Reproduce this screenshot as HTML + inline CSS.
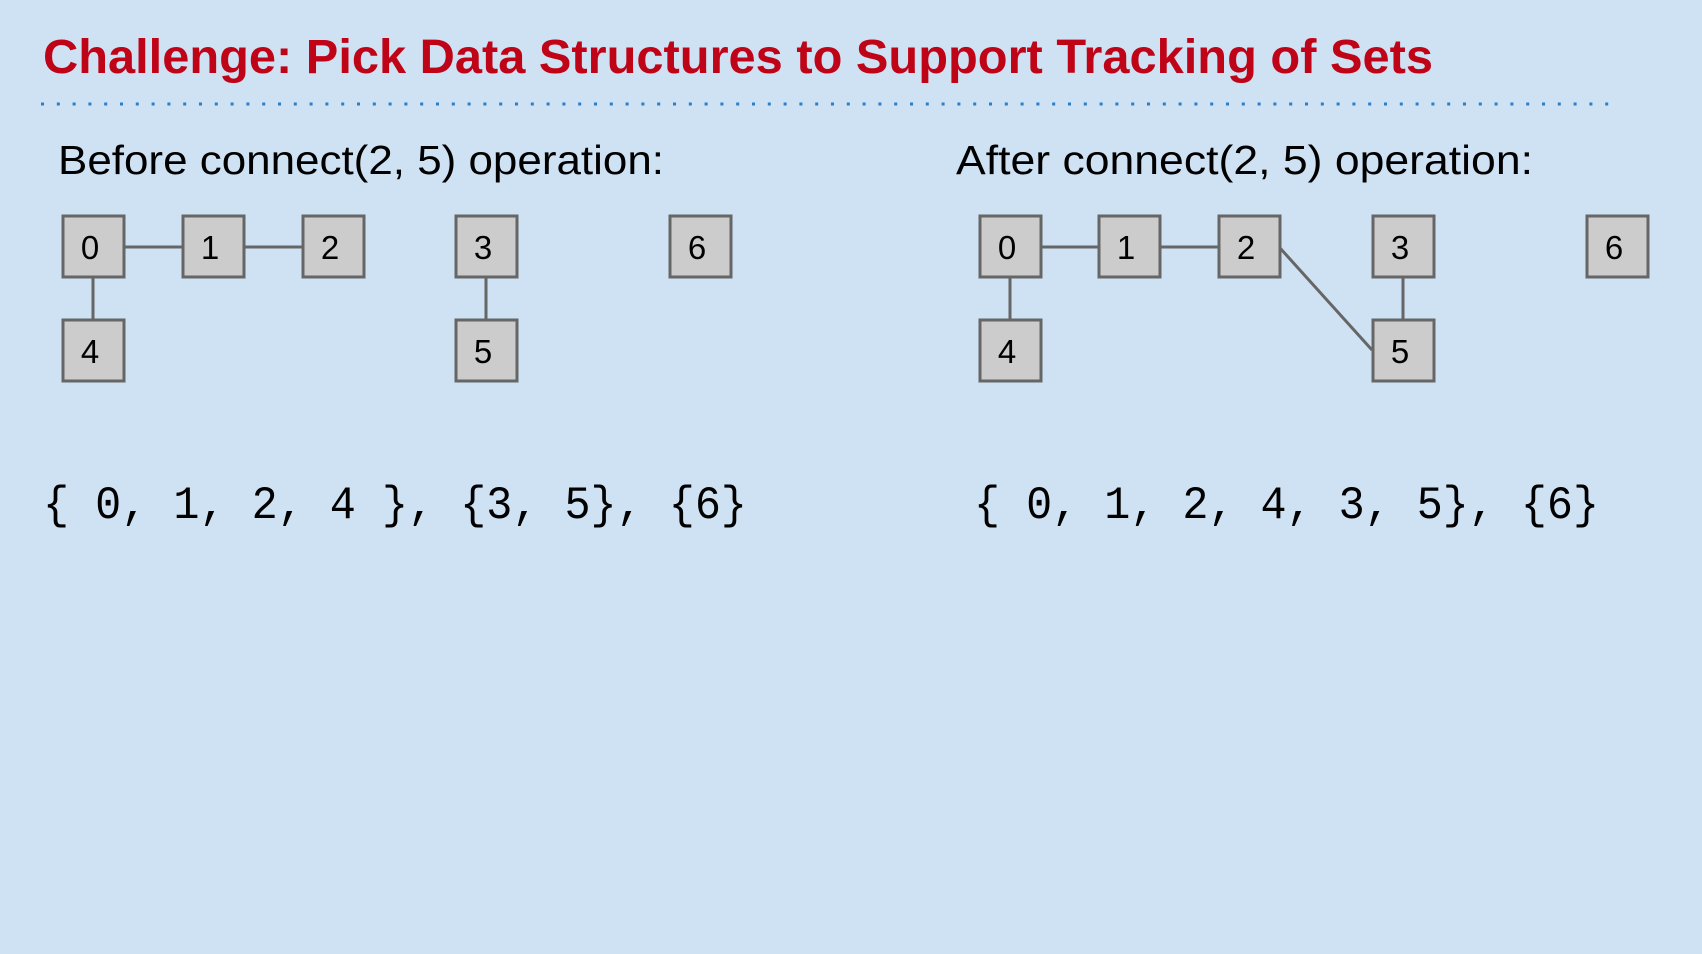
<!DOCTYPE html>
<html><head><meta charset="utf-8"><style>
html,body{margin:0;padding:0;background:#cfe2f3;}
svg{display:block;}
</style></head><body>
<svg width="1702" height="954" viewBox="0 0 1702 954" xmlns="http://www.w3.org/2000/svg">
<rect width="1702" height="954" fill="#cfe2f3"/>
<text x="43" y="73" font-family="Liberation Sans, sans-serif" font-weight="bold" font-size="48" fill="#c00418" textLength="1390" lengthAdjust="spacingAndGlyphs">Challenge: Pick Data Structures to Support Tracking of Sets</text>
<line x1="41" y1="104" x2="1615" y2="104" stroke="#2a7fc9" stroke-width="3" stroke-dasharray="3 12.8"/>
<text x="58" y="174" font-family="Liberation Sans, sans-serif" font-size="41" fill="#000" textLength="606" lengthAdjust="spacingAndGlyphs">Before connect(2, 5) operation:</text>
<text x="956" y="174" font-family="Liberation Sans, sans-serif" font-size="41" fill="#000" textLength="577" lengthAdjust="spacingAndGlyphs">After connect(2, 5) operation:</text>
<g stroke="#666" stroke-width="3">
<line x1="125" y1="247" x2="182" y2="247"/><line x1="244" y1="247" x2="302" y2="247"/>
<line x1="93" y1="278" x2="93" y2="319"/><line x1="486" y1="278" x2="486" y2="319"/>
<line x1="1041" y1="247" x2="1098" y2="247"/><line x1="1160" y1="247" x2="1218" y2="247"/>
<line x1="1010" y1="278" x2="1010" y2="319"/><line x1="1403" y1="278" x2="1403" y2="319"/>
<line x1="1280" y1="248" x2="1372" y2="350"/>
</g>
<g fill="#cccccc" stroke="#666" stroke-width="3">
<rect x="63" y="216" width="61" height="61"/><rect x="183" y="216" width="61" height="61"/><rect x="303" y="216" width="61" height="61"/><rect x="456" y="216" width="61" height="61"/><rect x="670" y="216" width="61" height="61"/>
<rect x="63" y="320" width="61" height="61"/><rect x="456" y="320" width="61" height="61"/>
<rect x="980" y="216" width="61" height="61"/><rect x="1099" y="216" width="61" height="61"/><rect x="1219" y="216" width="61" height="61"/><rect x="1373" y="216" width="61" height="61"/><rect x="1587" y="216" width="61" height="61"/>
<rect x="980" y="320" width="61" height="61"/><rect x="1373" y="320" width="61" height="61"/>
</g>
<g font-family="Liberation Sans, sans-serif" font-size="33" fill="#000" text-anchor="middle">
<text x="90" y="259">0</text><text x="210" y="259">1</text><text x="330" y="259">2</text><text x="483" y="259">3</text><text x="697" y="259">6</text>
<text x="90" y="363">4</text><text x="483" y="363">5</text>
<text x="1007" y="259">0</text><text x="1126" y="259">1</text><text x="1246" y="259">2</text><text x="1400" y="259">3</text><text x="1614" y="259">6</text>
<text x="1007" y="363">4</text><text x="1400" y="363">5</text>
</g>
<g font-family="Liberation Mono, monospace" font-size="46" fill="#000">
<text x="43" y="518" textLength="704" lengthAdjust="spacingAndGlyphs">{ 0, 1, 2, 4 }, {3, 5}, {6}</text>
<text x="974" y="518" textLength="625" lengthAdjust="spacingAndGlyphs">{ 0, 1, 2, 4, 3, 5}, {6}</text>
</g>
</svg>
</body></html>
